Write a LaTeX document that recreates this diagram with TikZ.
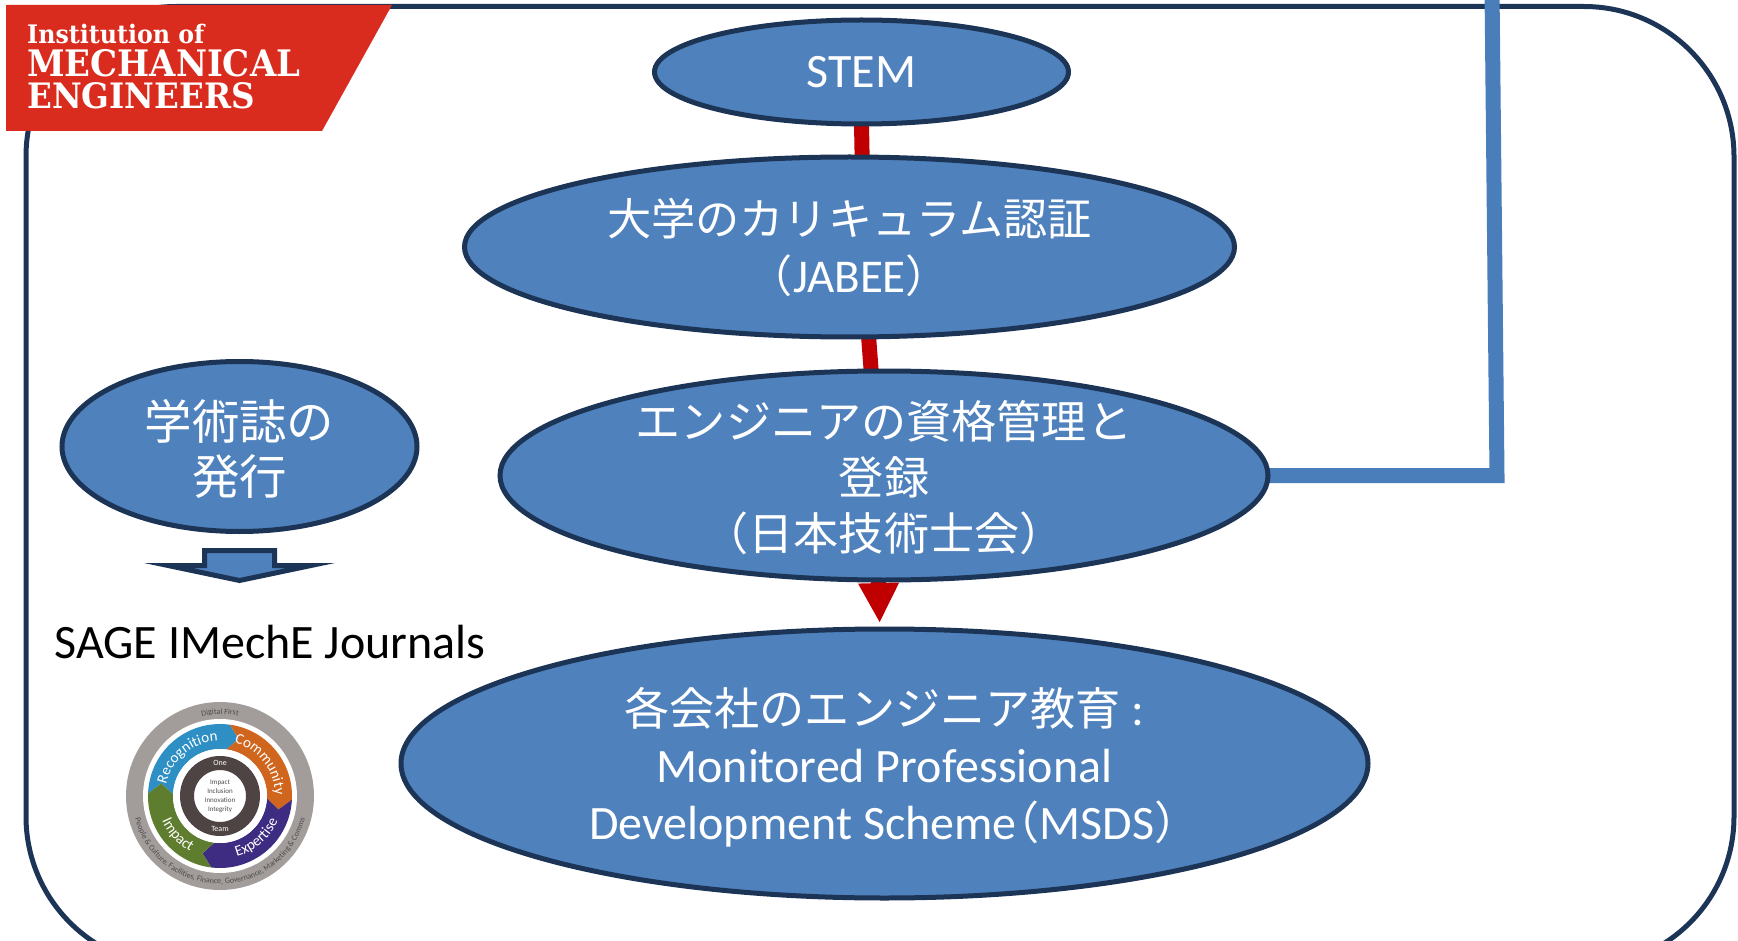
\documentclass[tikz,border=0pt]{standalone}
\usepackage{fontspec}
\setmainfont{Carlito}
\newfontfamily\jpfont[Scale=0.94]{Noto Sans CJK JP}
\newfontfamily\logofont[FakeStretch=0.93]{DejaVu Serif}
\newcommand{\jp}[1]{{\jpfont #1}}
\newcommand{\toppad}[1]{\rule{0pt}{#1}}
\usetikzlibrary{shapes.geometric, arrows.meta, backgrounds, decorations.text, calc}
\definecolor{oval}{HTML}{4F81BD}
\definecolor{navy}{HTML}{1C3557}
\definecolor{bar}{HTML}{4A7EBB}
\definecolor{crimson}{HTML}{C00000}
\definecolor{logored}{HTML}{D92B1E}
\definecolor{ringgray}{HTML}{A29C9A}
\definecolor{ringblue}{HTML}{2E8FC4}
\definecolor{ringorange}{HTML}{D0661E}
\definecolor{ringviolet}{HTML}{3E2C82}
\definecolor{ringgreen}{HTML}{5F7D2E}
\definecolor{ringdark}{HTML}{4E4444}
\newcommand{\ringseg}[3]{% colour, start angle, end angle
    \fill[#1] ($(badge)+(#2:72)$) arc[start angle=#2, end angle=#3, radius=72]
        -- ($(badge)+(#3-10:60)$) -- ($(badge)+(#3:47)$)
        arc[start angle=#3, end angle=#2, radius=47]
        -- ($(badge)+(#2-10:60)$) -- cycle;
}
\newcommand{\ringword}[6]{% size, colour, radius, start angle, end angle, text
    \path[decorate, decoration={text along path, text align=center, text={|\fontsize{#1}{#1}\selectfont\color{#2}|#6}}] ($(badge)+(#4:#3)$) arc[start angle=#4, end angle=#5, radius=#3];
}

\begin{document}
\begin{tikzpicture}[
        x=1pt, y=-1pt,
        oval/.style={ellipse, draw=navy, line width=5pt, fill=oval, inner sep=-15pt, outer sep=0pt, text=white, align=center, font=\fontsize{48}{55}\selectfont},
        frame/.style={rectangle, draw=navy, line width=5pt, rounded corners=150pt, inner sep=0pt, minimum width=1708pt, minimum height=960pt},
        link/.style={crimson, line width=15pt},
        lead/.style={bar, line width=15pt},
        logotext/.style={anchor=base west, inner sep=0pt, text=white},
        ringtext/.style={inner sep=0pt, align=center}
    ]
        \useasboundingbox (0,0) rectangle (1738,941);
        \clip (0,0) rectangle (1738,941);

        % Main chain
        \node[oval, minimum width=414pt, minimum height=104pt] (stem) at (861.5,72) {STEM};
        \node[oval, minimum width=770pt, minimum height=180pt, font=\fontsize{47}{57}\selectfont] (jabee) at (849.5,247) {\jp{大学のカリキュラム認証}\\\jp{（}JABEE\jp{）}};
        \node[oval, minimum width=768pt, minimum height=209pt, font=\fontsize{48}{56}\selectfont] (engineer) at (884,475.5) {\toppad{43pt}\jp{エンジニアの資格管理と}\\\jp{登録}\\\jp{（日本技術士会）}};
        \node[oval, minimum width=967pt, minimum height=269pt, font=\fontsize{48}{57}\selectfont] (company) at (884.5,763.5) {\toppad{45pt}\jp{各会社のエンジニア教育} :\\Monitored Professional\\\hspace*{20pt}Development Scheme\hspace{-22pt}\jp{（}MSDS\jp{）}};

        % Journals
        \node[oval, minimum width=355pt, minimum height=170pt, font=\fontsize{50.5}{55}\selectfont] (journal) at (239.5,446.5) {\toppad{46pt}\jp{学術誌の}\\\jp{発行}};
        \draw[navy, line width=5pt, fill=oval, miter limit=14] (204.5,550.5) -- (274.5,550.5) -- (274.5,565.5) -- (311,565.5) -- (239.5,580.5) -- (168,565.5) -- (204.5,565.5) -- cycle;
        \node[inner sep=0pt, anchor=base, font=\fontsize{48}{55}\selectfont] (sage) at (270,658) {SAGE IMechE Journals};

        % Connectors
        \coordinate (corner) at (1497,475.5);
        \coordinate (bartop) at (1492,-10);
        \begin{pgfonlayer}{background}
            \node[frame] (outline) at (880,486.5) {};
            \draw[link] (stem.south) -- (jabee.82);
            \draw[link] (jabee.-78) -- (engineer.97);
            \draw[link, -{Triangle[length=40pt, width=38pt]}, shorten >=6pt] (engineer.-93) -- (company.92);
            \draw[lead] (engineer.east) -- (corner) -- (bartop);
        \end{pgfonlayer}

        % Logo
        \fill[logored] (6,5) -- (392,5) -- (322,131) -- (6,131) -- cycle;
        \node[logotext, font=\logofont\bfseries\fontsize{25.5}{26}\selectfont] (inst) at (27,44) {Institution of};
        \node[logotext, font=\logofont\bfseries\fontsize{36.5}{38}\selectfont] (mech) at (27,77) {MECHANICAL};
        \node[logotext, font=\logofont\bfseries\fontsize{35}{38}\selectfont] (engs) at (27,109) {ENGINEERS};

        % Badge
        \coordinate (badge) at (220,796);
        \begin{scope}[y=1pt]
            \fill[ringgray] (badge) circle[radius=94];
            \fill[white] (badge) circle[radius=77];
            \ringseg{ringblue}{178}{82}
            \ringseg{ringorange}{82}{-3}
            \ringseg{ringviolet}{-3}{-97}
            \ringseg{ringgreen}{-97}{-182}
            \fill[white] (badge) circle[radius=47];
            \draw[ringdark, line width=14pt] (badge) circle[radius=33];
            \ringword{15}{white}{55}{172}{88}{Recognition}
            \ringword{15}{white}{55}{78}{-2}{Community}
            \ringword{15}{white}{63}{-90}{-8}{Expertise}
            \ringword{15}{white}{63}{-175}{-100}{Impact}
            \ringword{8}{black!70}{82}{110}{70}{Digital First}
            \ringword{8}{black!70}{88}{-172}{-8}{People {\&} Culture, Facilities, Finance, Governance, Marketing {\&} Comms}
            \node[ringtext, text=white, font=\fontsize{8}{8}\selectfont] (one) at ($(badge)+(0,33)$) {One};
            \node[ringtext, text=white, font=\fontsize{8}{8}\selectfont] (team) at ($(badge)+(0,-33)$) {Team};
            \node[ringtext, text=black!70, font=\fontsize{7}{9}\selectfont] (values) at (badge) {Impact\\Inclusion\\Innovation\\Integrity};
        \end{scope}
    \end{tikzpicture}
\end{document}
